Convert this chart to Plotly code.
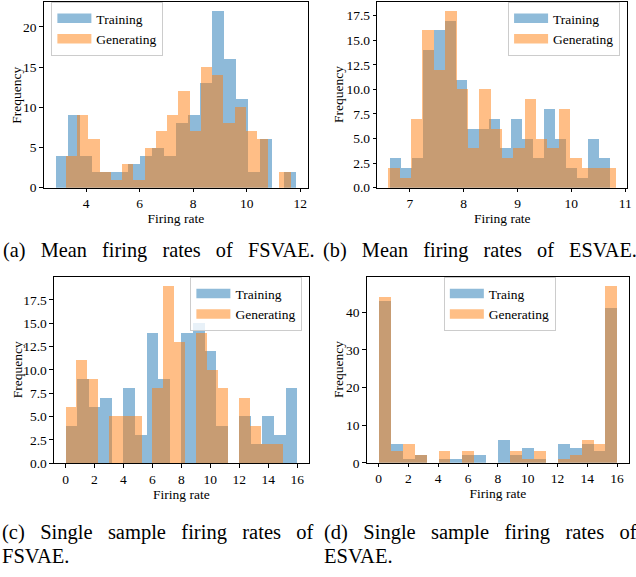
import numpy as np
import plotly.graph_objects as go

# ---------------- data (histogram counts, 20 bins each) ----------------
# (a) Mean firing rates of FSVAE
a_train_counts = [4, 9, 4, 2, 2, 2, 3, 4, 5, 4, 8, 9, 13, 22, 16, 11, 2, 6, 0, 2]
a_gen_counts = [4, 9, 6, 2, 1, 3, 1, 5, 7, 9, 12, 7, 15, 14, 8, 10, 7, 6, 0, 2]
a_train_bins = (2.87, 11.84)
a_gen_bins = (3.24, 11.63)

# (b) Mean firing rates of ESVAE
b_train_counts = [3, 2, 3, 14, 16, 17, 11, 6, 6, 7, 4, 7, 5, 3, 8, 5, 2, 1, 5, 3]
b_gen_counts = [2, 1, 7, 16, 12, 18, 10, 4, 10, 6, 3, 4, 9, 5, 4, 8, 3, 2, 2, 2]
b_train_bins = (6.644, 10.731)
b_gen_bins = (6.607, 10.829)

# (c) Single sample firing rates of FSVAE
c_train_counts = [4, 9, 6, 7, 0, 8, 3, 14, 9, 0, 14, 15, 12, 4, 0, 5, 2, 5, 3, 8]
c_gen_counts = [6, 11, 9, 0, 5, 5, 5, 0, 8, 19, 13, 0, 14, 10, 8, 0, 7, 4, 2, 2]
c_train_bins = (0, 16)
c_gen_bins = (0, 15)

# (d) Single sample firing rates of ESVAE
d_train_counts = [43, 5, 1, 2, 0, 1, 1, 2, 2, 0, 6, 2, 4, 1, 0, 5, 4, 5, 3, 41]
d_gen_counts = [44, 3, 5, 2, 0, 3, 0, 3, 0, 0, 0, 3, 1, 3, 0, 1, 2, 6, 5, 47]
d_train_bins = (0, 16)
d_gen_bins = (0, 16)

a_xticks = [4, 6, 8, 10, 12]
a_yticks = [0, 5, 10, 15, 20]
b_xticks = [7, 8, 9, 10, 11]
b_yticks = [0, 2.5, 5, 7.5, 10, 12.5, 15, 17.5]
c_xticks = [0, 2, 4, 6, 8, 10, 12, 14, 16]
c_yticks = [0, 2.5, 5, 7.5, 10, 12.5, 15, 17.5]
d_xticks = [0, 2, 4, 6, 8, 10, 12, 14, 16]
d_yticks = [0, 10, 20, 30, 40]

series_names = ["Training", "Generating"]
d_series_names = ["Traing", "Generating"]
x_title = "Firing rate"
y_title = "Frequency"

captions = {
    "a": [["(a)", "Mean", "firing", "rates", "of", "FSVAE."]],
    "b": [["(b)", "Mean", "firing", "rates", "of", "ESVAE."]],
    "c": [["(c)", "Single", "sample", "firing", "rates", "of"], ["FSVAE."]],
    "d": [["(d)", "Single", "sample", "firing", "rates", "of"], ["ESVAE."]],
}

# ---------------- styling ----------------
W, H = 636, 577
FONT = "Liberation Serif, Times New Roman, Times, serif"
BLUE = "#1f77b4"
ORANGE = "#ff7f0e"
BLUE_A = "rgba(31,119,180,0.5)"
ORANGE_A = "rgba(255,127,14,0.5)"
TICK_FS = 13.5
CAP_FS_AB = 20.3
CAP_FS_CD = 20.5


def px_x(p):
    return p / W


def px_y(p):
    return 1 - p / H


panels = {
    # name: (x0, x1, ytop, ybottom) in pixels
    "a": (44, 310, 2, 190.3),
    "b": (379.7, 631.3, 2, 190.3),
    "c": (54.3, 310.7, 281, 469.7),
    "d": (369, 633, 281, 469.3),
}
ytitle_x = {"a": 17, "b": 341.3, "c": 17.3, "d": 341.3}

fig = go.Figure()


def add_hist(counts, bins, color, axis_suffix):
    n = len(counts)
    edges = np.linspace(bins[0], bins[1], n + 1)
    centers = (edges[:-1] + edges[1:]) / 2
    width = edges[1] - edges[0]
    fig.add_trace(go.Bar(
        x=centers, y=counts, width=width,
        marker=dict(color=color, line=dict(width=0)),
        opacity=0.5, showlegend=False, hoverinfo="skip",
        xaxis="x" + axis_suffix, yaxis="y" + axis_suffix,
    ))


def add_legend_proxies(names, axis_suffix, legend_id):
    for nm, col in zip(names, [BLUE_A, ORANGE_A]):
        fig.add_trace(go.Scatter(
            x=[None], y=[None], mode="lines", name=nm,
            line=dict(color=col, width=9.5),
            legend=legend_id, showlegend=True,
            xaxis="x" + axis_suffix, yaxis="y" + axis_suffix,
        ))


specs = [
    ("a", "", a_train_counts, a_train_bins, a_gen_counts, a_gen_bins, series_names, "legend"),
    ("b", "2", b_train_counts, b_train_bins, b_gen_counts, b_gen_bins, series_names, "legend2"),
    ("c", "3", c_train_counts, c_train_bins, c_gen_counts, c_gen_bins, series_names, "legend3"),
    ("d", "4", d_train_counts, d_train_bins, d_gen_counts, d_gen_bins, d_series_names, "legend4"),
]

for key, suf, tc, tb, gc, gb, names, leg in specs:
    add_hist(tc, tb, BLUE, suf)
    add_hist(gc, gb, ORANGE, suf)
    add_legend_proxies(names, suf, leg)


def xrange_of(b1, b2):
    lo = min(b1[0], b2[0])
    hi = max(b1[1], b2[1])
    m = 0.05 * (hi - lo)
    return [lo - m, hi + m]


axis_common = dict(
    showline=True, mirror=True, linecolor="black", linewidth=1,
    ticks="outside", ticklen=3.5, tickwidth=1, tickcolor="black",
    showgrid=False, zeroline=False,
    tickfont=dict(family=FONT, size=TICK_FS, color="black"),
)

layout = dict(
    width=W, height=H,
    margin=dict(l=0, r=0, t=0, b=0),
    paper_bgcolor="white", plot_bgcolor="white",
    barmode="overlay", bargap=0,
    font=dict(family=FONT, size=TICK_FS, color="black"),
)

yranges = {
    "a": [0, 1.05 * max(a_train_counts + a_gen_counts)],
    "b": [0, 1.05 * max(b_train_counts + b_gen_counts)],
    "c": [0, 1.05 * max(c_train_counts + c_gen_counts)],
    "d": [0, 1.05 * max(d_train_counts + d_gen_counts)],
}
xranges = {
    "a": xrange_of(a_train_bins, a_gen_bins),
    "b": xrange_of(b_train_bins, b_gen_bins),
    "c": xrange_of(c_train_bins, c_gen_bins),
    "d": xrange_of(d_train_bins, d_gen_bins),
}
xt = {"a": a_xticks, "b": b_xticks, "c": c_xticks, "d": d_xticks}
yt = {"a": a_yticks, "b": b_yticks, "c": c_yticks, "d": d_yticks}
yfmt = {"a": "d", "b": ".1f", "c": ".1f", "d": "d"}

for key, suf, *_ in specs:
    x0, x1, yt0, yb0 = panels[key]
    layout["xaxis" + suf] = dict(
        axis_common,
        domain=[px_x(x0), px_x(x1)], anchor="y" + suf,
        range=xranges[key], tickvals=xt[key],
        title=dict(text=x_title, font=dict(family=FONT, size=TICK_FS), standoff=1),
    )
    layout["yaxis" + suf] = dict(
        axis_common,
        domain=[px_y(yb0), px_y(yt0)], anchor="x" + suf,
        range=yranges[key], tickvals=yt[key], tickformat=yfmt[key],
    )

leg_common = dict(
    bgcolor="rgba(255,255,255,0.8)", bordercolor="#cccccc", borderwidth=1,
    font=dict(family=FONT, size=TICK_FS, color="black"),
    itemwidth=34, traceorder="normal", tracegroupgap=0,
)
layout["legend"] = dict(leg_common, x=px_x(51.7), y=px_y(2), xanchor="left", yanchor="top")
layout["legend2"] = dict(leg_common, x=px_x(624), y=px_y(2), xanchor="right", yanchor="top")
layout["legend3"] = dict(leg_common, x=px_x(304.3), y=px_y(281), xanchor="right", yanchor="top")
layout["legend4"] = dict(leg_common, x=px_x(503), y=px_y(281), xanchor="center", yanchor="top")

fig.update_layout(**layout)

# y-axis titles (placed like matplotlib's ylabel)
for key, *_ in specs:
    x0, x1, yt0, yb0 = panels[key]
    fig.add_annotation(
        text=y_title, xref="paper", yref="paper",
        x=px_x(ytitle_x[key]), y=px_y((yt0 + yb0) / 2),
        xanchor="center", yanchor="middle", textangle=-90, showarrow=False,
        font=dict(family=FONT, size=TICK_FS, color="black"),
    )

GAP = " \u00a0\u00a0"


def cap(text, xpx, baseline_px, size):
    fig.add_annotation(
        text=text, xref="paper", yref="paper",
        x=px_x(xpx - 2), y=px_y(baseline_px - 7), xanchor="left", yanchor="middle",
        showarrow=False, font=dict(family=FONT, size=size, color="black"),
    )


cap(GAP.join(captions["a"][0]), 3, 261, CAP_FS_AB)
cap(GAP.join(captions["b"][0]), 325, 261, CAP_FS_AB)
cap(GAP.join(captions["c"][0]), 2, 547, CAP_FS_CD)
cap(GAP.join(captions["c"][1]), 2, 571, CAP_FS_CD)
cap(GAP.join(captions["d"][0]), 326, 547, CAP_FS_CD)
cap(GAP.join(captions["d"][1]), 326, 571, CAP_FS_CD)

fig.write_html(
    "out.html",
    config={"displayModeBar": False},
    post_script="document.body.style.margin='0';document.body.style.overflow='hidden';",
)
